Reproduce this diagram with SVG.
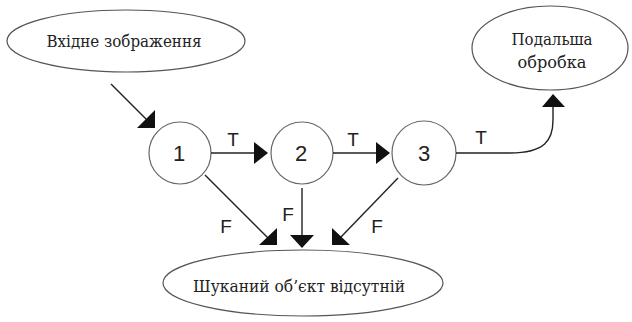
<svg xmlns="http://www.w3.org/2000/svg" width="632" height="322" viewBox="0 0 632 322">
<style>
.ell{fill:#fff;stroke:#555;stroke-width:1.2}
.circ{fill:#fff;stroke:#666;stroke-width:1.2}
.ser{font-family:'DejaVu Serif','Liberation Serif',serif;font-size:17px;fill:#222;text-anchor:middle}
.num{font-family:'Liberation Sans',Arial,sans-serif;font-size:22px;fill:#222;text-anchor:middle}
.lbl{font-family:'Liberation Sans',Arial,sans-serif;font-size:19px;fill:#222;text-anchor:middle}
.ln{fill:none;stroke:#222;stroke-width:1.4}
.ah{fill:#111;stroke:none}
</style>
<rect width="632" height="322" fill="#fff"/>
<g id="input">
<ellipse class="ell" cx="126" cy="41" rx="119" ry="31"/>
<text class="ser" x="124" y="47" textLength="155" lengthAdjust="spacingAndGlyphs">Вхідне зображення</text>
</g>
<g id="further">
<ellipse class="ell" cx="550" cy="48" rx="78" ry="42"/>
<text class="ser" x="552" y="45" textLength="81" lengthAdjust="spacingAndGlyphs">Подальша</text>
<text class="ser" x="552" y="68" textLength="69" lengthAdjust="spacingAndGlyphs">обробка</text>
</g>
<g id="absent">
<ellipse class="ell" cx="303" cy="283" rx="140" ry="33"/>
<text class="ser" x="299" y="292" textLength="212" lengthAdjust="spacingAndGlyphs">Шуканий об’єкт відсутній</text>
</g>
<g id="n1">
<circle class="circ" cx="180" cy="153" r="31"/>
<text class="num" x="179" y="161">1</text>
</g>
<g id="n2">
<circle class="circ" cx="302" cy="153" r="31"/>
<text class="num" x="301" y="161">2</text>
</g>
<g id="n3">
<circle class="circ" cx="424" cy="153" r="32"/>
<text class="num" x="424" y="161">3</text>
</g>
<g id="connectors">
<line class="ln" x1="111" y1="84" x2="148" y2="121"/>
<polygon class="ah" points="137,128 155,110 155,128"/>
<line class="ln" x1="211" y1="153" x2="256" y2="153"/>
<polygon class="ah" points="254,142 268,153 254,164"/>
<text class="lbl" x="233" y="146">T</text>
<line class="ln" x1="333" y1="153" x2="378" y2="153"/>
<polygon class="ah" points="376,142 390,153 376,164"/>
<text class="lbl" x="353" y="146">T</text>
<path class="ln" d="M456,153 H510 C545,153 553,140 553,120 V106"/>
<polygon class="ah" points="542,107 553,94 565,107"/>
<text class="lbl" x="481" y="144">T</text>
<line class="ln" x1="205" y1="175" x2="268" y2="238"/>
<polygon class="ah" points="259,245 277,228 277,245"/>
<text class="lbl" x="226" y="233">F</text>
<line class="ln" x1="302" y1="188" x2="302" y2="238"/>
<polygon class="ah" points="290,235 314,235 302,248"/>
<text class="lbl" x="288" y="221">F</text>
<line class="ln" x1="398" y1="178" x2="340" y2="238"/>
<polygon class="ah" points="332,245 332,228 350,245"/>
<text class="lbl" x="377" y="233">F</text>
</g>
</svg>
